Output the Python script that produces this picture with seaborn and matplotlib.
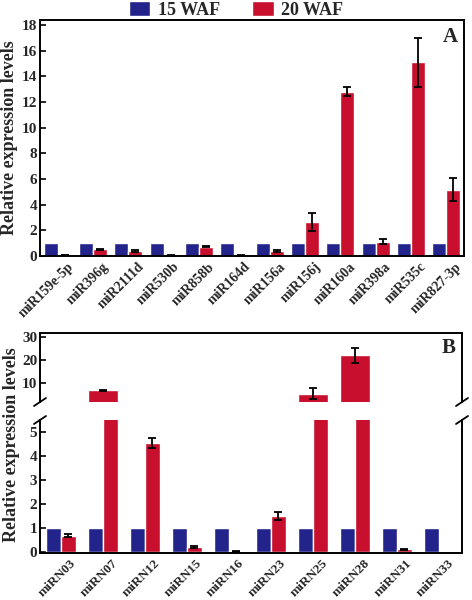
import matplotlib
matplotlib.use("Agg")
import matplotlib.pyplot as plt
from matplotlib.patches import Patch
from matplotlib.transforms import ScaledTranslation
import numpy as np
import pandas as pd
import seaborn as sns

# panel A data
mirs_a = ["miR159e-5p", "miR396g", "miR2111d", "miR530b", "miR858b", "miR164d",
          "miR156a", "miR156j", "miR160a", "miR398a", "miR535c", "miR827-3p"]
waf15_a = [1, 1, 1, 1, 1, 1, 1, 1, 1, 1, 1, 1]
waf20_a = [0.08, 0.54, 0.38, 0.02, 0.72, 0.06, 0.38, 2.64, 12.8, 1.1, 15.1, 5.15]
err20_a = [0.03, 0.04, 0.08, 0.02, 0.05, 0.03, 0.07, 0.7, 0.36, 0.2, 1.9, 0.9]

# panel B data
mirs_b = ["miRN03", "miRN07", "miRN12", "miRN15", "miRN16", "miRN23",
          "miRN25", "miRN28", "miRN31", "miRN33"]
waf15_b = [1, 1, 1, 1, 1, 1, 1, 1, 1, 1]
waf20_b = [0.68, 7.1, 4.55, 0.19, 0.02, 1.5, 5.6, 22.1, 0.1, 0.0]
err20_b = [0.05, 0.2, 0.2, 0.04, 0.02, 0.18, 2.4, 3.2, 0.02, np.nan]

groups = ["15 WAF", "20 WAF"]
palette = {"15 WAF": "#23238c", "20 WAF": "#c8102e"}

sns.set_theme(style="white")
plt.rcParams["font.family"] = ["Liberation Serif", "DejaVu Serif"]
plt.rcParams["font.weight"] = "bold"
plt.rcParams["axes.labelweight"] = "bold"


def long_df(names, v15, v20):
    return pd.DataFrame({
        "mir": list(names) * 2,
        "group": ["15 WAF"] * len(names) + ["20 WAF"] * len(names),
        "value": list(v15) + list(v20),
    })


def add_errors(ax, names, vals, errs, keep):
    # red bars are the second hue container
    bars = ax.containers[-1]
    for p in bars:
        xc = p.get_x() + p.get_width() / 2
        i = int(round(xc))
        if not keep(vals[i]) or np.isnan(errs[i]):
            continue
        ax.errorbar(xc, vals[i], yerr=errs[i], fmt="none", ecolor="black",
                    elinewidth=1.3, capsize=3, capthick=1.3)


def style_axes(ax):
    for s in ax.spines.values():
        s.set_color("black")
        s.set_linewidth(1.4)
    ax.tick_params(axis="y", direction="in", length=4, width=1.4,
                   labelsize=11, pad=2, left=True)
    ax.tick_params(axis="x", length=0, labelsize=10, pad=3)
    ax.set_xlabel("")
    ax.set_ylabel("")


def rotate_labels(ax, names, size):
    ax.set_xticks(range(len(names)))
    ax.set_xticklabels(names, rotation=45, ha="right", rotation_mode="anchor",
                       fontsize=size)
    shift = ScaledTranslation(0.09, 0, fig.dpi_scale_trans)
    for lab in ax.get_xticklabels():
        lab.set_transform(lab.get_transform() + shift)


fig = plt.figure(figsize=(4.72, 6.0), dpi=100)

# ---- panel A
axA = fig.add_axes([40 / 472, 1 - 256 / 600, 424 / 472, 236 / 600])
sns.barplot(data=long_df(mirs_a, waf15_a, waf20_a), x="mir", y="value",
            hue="group", order=mirs_a, hue_order=groups, palette=palette,
            errorbar=None, saturation=1, width=0.8, legend=False, ax=axA)
add_errors(axA, mirs_a, waf20_a, err20_a, lambda v: True)
axA.set_ylim(0, 18.4)
axA.set_xlim(-0.5, 11.5)
axA.set_yticks(range(0, 19, 2))
style_axes(axA)
rotate_labels(axA, mirs_a, 10)
axA.set_ylabel("Relative expression levels", fontsize=13, labelpad=3)
axA.text(0.985, 0.93, "A", transform=axA.transAxes, ha="right", va="center",
         fontsize=15, fontweight="bold")

# ---- panel B (broken axis)
cut = 5.5
axBu = fig.add_axes([40 / 472, 1 - 402 / 600, 422 / 472, 69 / 600])
axBl = fig.add_axes([40 / 472, 1 - 553 / 600, 422 / 472, 133 / 600])

df_b = long_df(mirs_b, waf15_b, waf20_b)
sns.barplot(data=df_b[df_b["value"] > cut], x="mir", y="value", hue="group",
            order=mirs_b, hue_order=groups, palette=palette, errorbar=None,
            saturation=1, width=0.7, legend=False, ax=axBu)
sns.barplot(data=df_b, x="mir", y="value", hue="group", order=mirs_b,
            hue_order=groups, palette=palette, errorbar=None, saturation=1,
            width=0.7, legend=False, ax=axBl)
add_errors(axBu, mirs_b, waf20_b, err20_b, lambda v: v > cut)
add_errors(axBl, mirs_b, waf20_b, err20_b, lambda v: v <= cut)

for ax in (axBu, axBl):
    ax.set_xlim(-0.5, 9.55)
    style_axes(ax)

axBu.set_ylim(2, 31.6)
axBu.set_yticks([10, 20, 30])
axBu.spines["bottom"].set_visible(False)
axBu.set_xticks([])
axBu.text(0.985, 0.78, "B", transform=axBu.transAxes, ha="right", va="center",
          fontsize=15, fontweight="bold")

axBl.set_ylim(-0.05, cut)
axBl.set_yticks(range(0, 6))
axBl.spines["top"].set_visible(False)
rotate_labels(axBl, mirs_b, 9.5)

# break marks
for ax, yb in ((axBu, 0), (axBl, 1)):
    bb = ax.get_position()
    dx = 6 / (bb.width * 472)
    dy = 4 / (bb.height * 600)
    for xb in (0, 1):
        ax.plot([xb - dx, xb + dx], [yb - dy, yb + dy], color="black",
                lw=1.3, transform=ax.transAxes, clip_on=False)

fig.text(12 / 472, 1 - 445 / 600, "Relative expression levels", rotation=90,
         ha="center", va="center", fontsize=13, fontweight="bold")

# legend
handles = [Patch(facecolor=palette[g], label=g) for g in groups]
fig.legend(handles=handles, loc="center", bbox_to_anchor=(0.5, 1 - 10 / 600),
           ncol=2, frameon=False, handlelength=1.2, handleheight=0.9,
           columnspacing=1.8, handletextpad=0.4, borderpad=0,
           prop={"weight": "bold", "size": 13})

fig.savefig("out.png", dpi=100)
